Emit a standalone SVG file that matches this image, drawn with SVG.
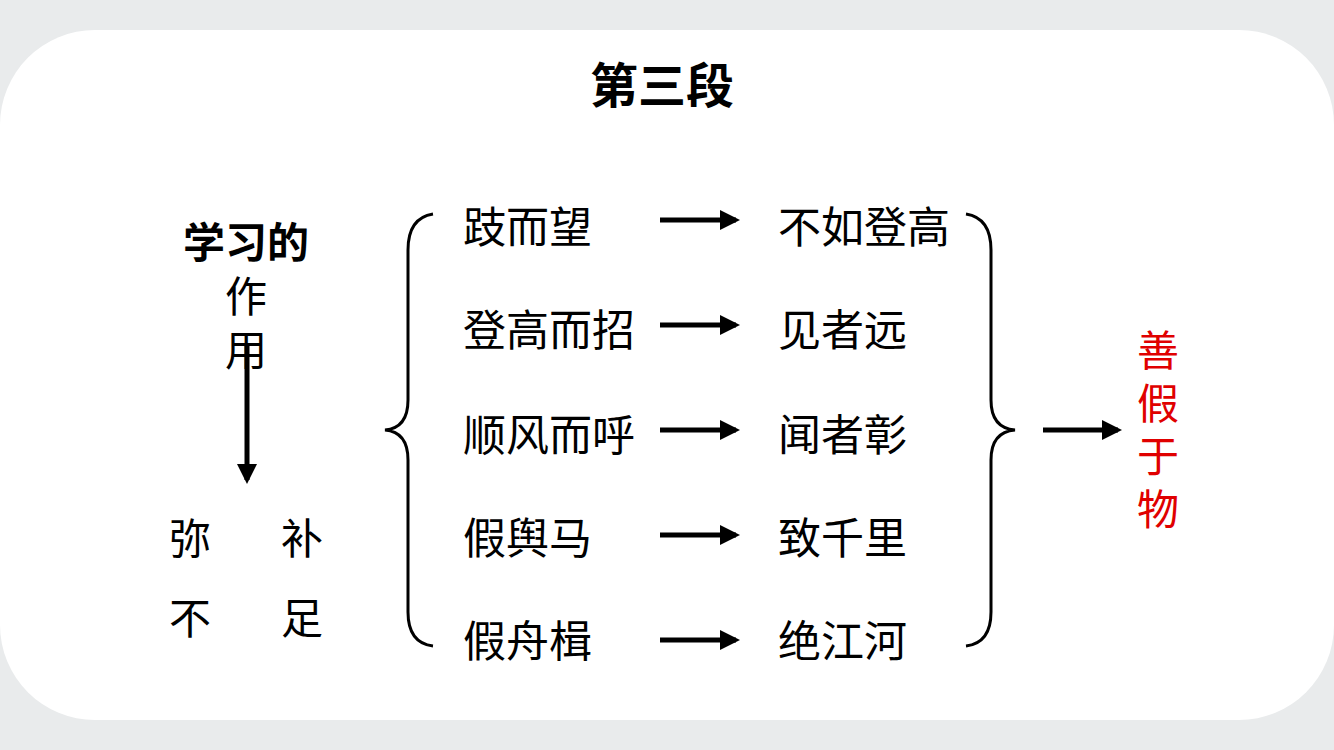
<svg xmlns="http://www.w3.org/2000/svg" width="1334" height="750" viewBox="0 0 1334 750">
<defs>
<style>
text{font-family:"Noto Sans CJK SC",sans-serif;fill:#000}
.t{font-size:43px}
.b{font-weight:bold}
.c{text-anchor:middle}
.red{fill:#e00000;font-size:42px;text-anchor:middle}
.ln{stroke:#000;stroke-width:5;fill:none}
.br{stroke:#000;stroke-width:3;fill:none}
</style>
<marker id="ah" viewBox="0 0 10 10" refX="8" refY="5" markerWidth="4" markerHeight="4" orient="auto" markerUnits="strokeWidth"><path d="M0,0 L10,5 L0,10 z" fill="#000"/></marker>
</defs>
<rect width="1334" height="750" fill="#e9ebec"/>
<rect x="0" y="30" width="1334" height="690" rx="95" fill="#fff"/>
<g id="title"><text x="662" y="103" class="c b" font-size="48">第三段</text></g>
<g id="left">
<text x="246" y="258" class="c b" font-size="42">学习的</text>
<text x="246" y="312" class="c" font-size="42">作</text>
<text x="246" y="366" class="c" font-size="42">用</text>
<text x="190" y="554" class="c" font-size="42">弥</text>
<text x="302" y="554" class="c" font-size="42">补</text>
<text x="190" y="634" class="c" font-size="42">不</text>
<text x="302" y="634" class="c" font-size="42">足</text>
</g>
<g id="rows" class="t">
<text x="463" y="243">跂而望</text><text x="778" y="243">不如登高</text>
<text x="463" y="346">登高而招</text><text x="778" y="346">见者远</text>
<text x="463" y="451">顺风而呼</text><text x="778" y="451">闻者彰</text>
<text x="463" y="554">假舆马</text><text x="778" y="554">致千里</text>
<text x="463" y="657">假舟楫</text><text x="778" y="657">绝江河</text>
</g>
<g id="result">
<text x="1158" y="366" class="red">善</text>
<text x="1158" y="419" class="red">假</text>
<text x="1158" y="472" class="red">于</text>
<text x="1158" y="525" class="red">物</text>
</g>
<g id="connectors">
<line class="ln" x1="247" y1="345" x2="247" y2="480" marker-end="url(#ah)"/>
<line class="ln" x1="660" y1="220" x2="736" y2="220" marker-end="url(#ah)"/>
<line class="ln" x1="660" y1="325" x2="736" y2="325" marker-end="url(#ah)"/>
<line class="ln" x1="660" y1="430" x2="736" y2="430" marker-end="url(#ah)"/>
<line class="ln" x1="660" y1="535" x2="736" y2="535" marker-end="url(#ah)"/>
<line class="ln" x1="660" y1="640" x2="736" y2="640" marker-end="url(#ah)"/>
<line class="ln" x1="1043" y1="430" x2="1118" y2="430" marker-end="url(#ah)"/>
<path class="br" d="M433,214 Q408,218 408,250 L408,400 Q408,428 385,430 Q408,432 408,460 L408,612 Q408,643 433,646"/>
<path class="br" d="M966,214 Q991,218 991,250 L991,400 Q991,428 1015,430 Q991,432 991,460 L991,612 Q991,643 966,646"/>
</g>
</svg>
